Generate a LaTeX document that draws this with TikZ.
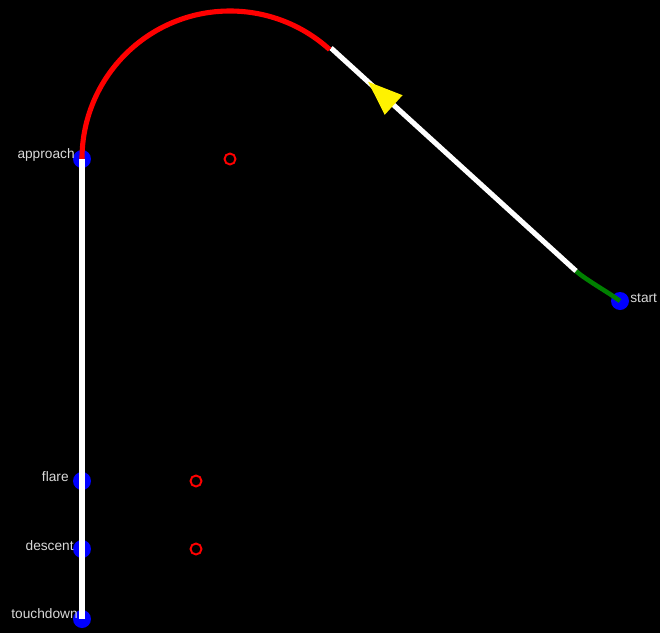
\documentclass[tikz,border=0pt]{standalone}
\usepackage{fontspec}
\setsansfont{Liberation Sans}
\usetikzlibrary{arrows.meta,decorations.markings}

\begin{document}
\begin{tikzpicture}
  [x=0.02cm,y=-0.02cm,
   dotN/.style={circle,fill=blue,minimum size=0.36cm,inner sep=0pt},
   ringN/.style={circle,draw=red,line width=1.1pt,minimum size=0.22cm,inner sep=0pt},
   tagN/.style={text=black!15,font=\sffamily\fontsize{7.8}{9}\selectfont,inner sep=0pt},
   legW/.style={white,line width=2.9pt},
   turnR/.style={red,line width=2.9pt},
   turnG/.style={green!50!black,line width=2.6pt}]

  % background
  \fill[black] (0,0) rectangle (660,633);
  \useasboundingbox (0,0) rectangle (660,633);

  % waypoints
  \node[dotN] (approach) at (82,159) {};
  \node[dotN] (flare) at (82,481) {};
  \node[dotN] (descent) at (82,549) {};
  \node[dotN] (touchdown) at (82,619) {};
  \node[dotN] (start) at (620,301) {};

  % turn centres
  \node[ringN] (c1) at (230,159) {};
  \node[ringN] (c2) at (196,481) {};
  \node[ringN] (c3) at (196,549) {};

  % labels
  \node[tagN,anchor=east] (approachT) at (75,155) {approach};
  \node[tagN,anchor=east] (flareT) at (69,477) {flare};
  \node[tagN,anchor=east] (descentT) at (74,546) {descent};
  \node[tagN,anchor=east] (touchdownT) at (78,614) {touchdown};
  \node[tagN,anchor=west] (startT) at (630,298) {start};

  \coordinate (turnEnd) at (576,271);
  \coordinate (arcStart) at (331,48);

  % flight path
  \draw[turnG] (start.center) .. controls (608,292) and (586,280) .. (turnEnd);
  \draw[legW,postaction={decorate},
    decoration={markings,mark=at position 0.85 with
      {\arrow[yellow]{Triangle[length=0.7cm,width=0.5cm]}}}]
    (turnEnd) -- (arcStart);
  \draw[turnR] (approach.center) arc[start angle=180,end angle=312.3,radius=148];
  \draw[legW] (approach.center) -- (touchdown.center);

\end{tikzpicture}
\end{document}
